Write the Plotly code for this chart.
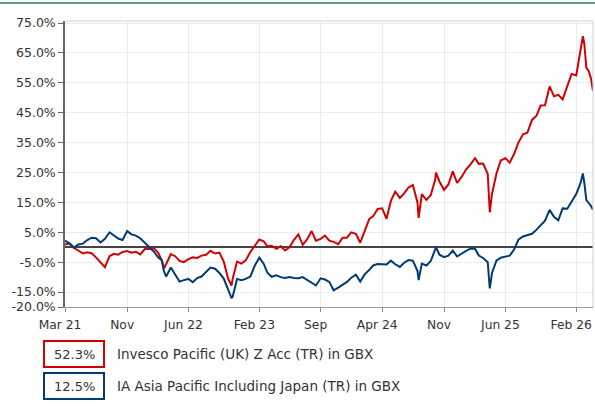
import plotly.graph_objects as go

# ---------------- data ----------------
dates = [
    "2021-03-31", "2021-04-16", "2021-05-01", "2021-05-16", "2021-06-01", "2021-06-16",
    "2021-07-01", "2021-07-16", "2021-08-01", "2021-08-16", "2021-09-01", "2021-09-16",
    "2021-10-01", "2021-10-16", "2021-11-01", "2021-11-16", "2021-12-01", "2021-12-16",
    "2022-01-01", "2022-01-16", "2022-02-01", "2022-02-16", "2022-03-01", "2022-03-08",
    "2022-03-16", "2022-04-01", "2022-04-16", "2022-05-01", "2022-05-16", "2022-06-01",
    "2022-06-16", "2022-07-01", "2022-07-16", "2022-08-01", "2022-08-16", "2022-09-01",
    "2022-09-16", "2022-10-01", "2022-10-16", "2022-10-28", "2022-11-01", "2022-11-16",
    "2022-12-01", "2022-12-16",
    "2023-01-01", "2023-01-16", "2023-02-01", "2023-02-16", "2023-03-01", "2023-03-16",
    "2023-04-01", "2023-04-16", "2023-05-01", "2023-05-16", "2023-06-01", "2023-06-16",
    "2023-07-01", "2023-07-16", "2023-08-01", "2023-08-16", "2023-09-01", "2023-09-16",
    "2023-10-01", "2023-10-16", "2023-11-01", "2023-11-16", "2023-12-01", "2023-12-16",
    "2024-01-01", "2024-01-16", "2024-02-01", "2024-02-16", "2024-03-01", "2024-03-16",
    "2024-04-01", "2024-04-16", "2024-05-01", "2024-05-16", "2024-06-01", "2024-06-16",
    "2024-07-01", "2024-07-16", "2024-08-01", "2024-08-05", "2024-08-16", "2024-09-01",
    "2024-09-16", "2024-10-01", "2024-10-04", "2024-10-16", "2024-11-01", "2024-11-16",
    "2024-12-01", "2024-12-16",
    "2025-01-01", "2025-01-16", "2025-02-01", "2025-02-16", "2025-03-01", "2025-03-16",
    "2025-04-01", "2025-04-08", "2025-04-16", "2025-05-01", "2025-05-16", "2025-06-01",
    "2025-06-16", "2025-07-01", "2025-07-16", "2025-08-01", "2025-08-16", "2025-09-01",
    "2025-09-16", "2025-10-01", "2025-10-16", "2025-11-01", "2025-11-16", "2025-12-01",
    "2025-12-16",
    "2026-01-01", "2026-01-16", "2026-02-01", "2026-02-16", "2026-02-24", "2026-03-01",
    "2026-03-08", "2026-03-16", "2026-03-24", "2026-03-31",
]

fund_name = "Invesco Pacific (UK) Z Acc (TR) in GBX"
fund = [
    0.9, 1.2, -0.2, -1.1, -2.1, -1.7, -2.0, -3.4, -5.1, -6.7, -3.0, -2.2, -2.5, -1.6, -1.3, -1.8, -1.5, -2.4,
    -0.6, -0.6, -0.3, -1.8, -4.5, -7.1, -5.6, -2.3, -3.0, -4.6, -5.0, -4.0, -3.4, -3.6, -2.8, -2.5, -1.2,
    -2.1, -1.8, -4.8, -10.5, -12.8, -10.5, -4.8, -5.5, -4.4,
    -1.6, 0.6, 2.6, 2.0, 0.3, 0.5, -0.5, 0.3, -1.1, 0.0, 2.5, 4.3, 0.8, 2.6, 5.4, 2.2, 2.8, 3.9, 2.2, 1.8,
    1.0, 3.2, 3.2, 5.0,
    4.5, 1.5, 5.8, 9.4, 10.4, 12.8, 13.0, 9.5, 15.5, 18.6, 16.5, 18.0, 20.0, 20.8, 15.0, 9.8, 17.8, 15.8,
    17.5, 22.5, 25.0, 22.0, 19.2, 21.0, 25.4, 21.5,
    23.6, 26.0, 27.8, 29.8, 27.9, 28.0, 24.5, 11.7, 18.0, 24.6, 29.0, 29.8, 28.3, 31.2, 35.0, 37.8, 38.3,
    42.6, 43.9, 47.4, 47.5, 53.8, 50.5, 51.0, 49.5,
    54.0, 58.0, 57.5, 67.0, 70.6, 68.0, 60.0, 59.0, 56.5, 52.3,
]

sector_name = "IA Asia Pacific Including Japan (TR) in GBX"
sector = [
    2.2, 1.2, -0.2, 0.9, 1.2, 2.4, 3.2, 3.0, 1.6, 2.8, 5.0, 3.8, 2.9, 2.4, 5.4, 4.3, 3.9, 3.0,
    1.5, 0.1, -1.4, -3.4, -4.4, -8.0, -9.8, -6.8, -9.4, -11.5, -11.0, -10.6, -11.7, -10.3, -9.8, -8.4,
    -6.8, -7.2, -8.6, -10.5, -14.0, -17.0, -16.5, -10.6, -11.0, -10.6,
    -9.8, -6.2, -3.5, -5.5, -8.5, -9.9, -9.4, -10.0, -10.3, -10.0, -10.3, -10.4, -10.0, -11.0, -12.0,
    -12.8, -10.4, -10.8, -11.6, -14.4, -13.5, -12.5, -11.6, -10.2,
    -9.2, -11.5, -9.0, -7.6, -6.1, -5.6, -5.6, -5.8, -4.5, -5.7, -6.6, -5.2, -4.3, -4.5, -8.0, -11.0,
    -5.5, -6.1, -4.6, -1.0, 0.0, -2.5, -3.3, -2.8, -1.1, -3.1,
    -2.0, -1.2, -0.4, -0.5, -2.8, -3.6, -5.0, -13.8, -8.5, -4.5, -3.5, -3.1, -2.8, -0.8, 2.5, 3.6, 4.0,
    4.5, 5.8, 7.5, 8.9, 12.5, 10.2, 9.0, 13.0,
    12.9, 15.5, 17.8, 21.5, 24.7, 21.5, 15.8, 14.8, 13.8, 12.5,
]

legend_values = ["52.3%", "12.5%"]

x_tick_dates = ["2021-03-31", "2021-11-01", "2022-06-01", "2023-02-01", "2023-09-01",
                "2024-04-01", "2024-11-01", "2025-06-01", "2026-02-01"]
x_tick_labels = ["Mar 21", "Nov", "Jun 22", "Feb 23", "Sep", "Apr 24", "Nov", "Jun 25", "Feb 26"]

y_tick_vals = [75, 65, 55, 45, 35, 25, 15, 5, -5, -15, -20]
y_tick_labels = ["75.0%", "65.0%", "55.0%", "45.0%", "35.0%", "25.0%", "15.0%", "5.0%",
                 "-5.0%", "-15.0%", "-20.0%"]

assert len(dates) == len(fund) == len(sector)

# ---------------- style ----------------
RED = "#d20000"
BLUE = "#003b74"
FONT = "DejaVu Sans"
TXT = "#333333"

W, H = 595, 406
ML, MR, MT, MB = 65, 2, 21, 99
PW = W - ML - MR
PH = H - MT - MB


def px(x):
    return (x - ML) / PW


def py(y):
    return (H - MB - y) / PH


fig = go.Figure()
fig.add_trace(go.Scatter(x=dates, y=fund, mode="lines", name=fund_name,
                         line=dict(color=RED, width=2)))
fig.add_trace(go.Scatter(x=dates, y=sector, mode="lines", name=sector_name,
                         line=dict(color=BLUE, width=2)))

shapes = [
    dict(type="line", xref="paper", yref="paper", x0=px(0), x1=px(W), y0=py(3), y1=py(3),
         line=dict(color="#5c9d95", width=2)),
    dict(type="line", xref="paper", yref="paper", x0=0, x1=1, y0=1, y1=1,
         line=dict(color="#d0d0d0", width=1)),
    dict(type="line", xref="paper", yref="paper", x0=1, x1=1, y0=0, y1=1,
         line=dict(color="#d0d0d0", width=1)),
]

annotations = []
legend_rows = [(RED, legend_values[0], fund_name, 341), (BLUE, legend_values[1], sector_name, 373)]
for col, val, name, top in legend_rows:
    shapes.append(dict(type="rect", xref="paper", yref="paper",
                       x0=px(44), x1=px(104), y0=py(top + 26), y1=py(top),
                       line=dict(color=col, width=2), fillcolor="white"))
    annotations.append(dict(xref="paper", yref="paper", x=px(74), y=py(top + 13),
                            text=val, showarrow=False, xanchor="center", yanchor="middle",
                            font=dict(family=FONT, size=13, color=TXT)))
    annotations.append(dict(xref="paper", yref="paper", x=px(115), y=py(top + 13),
                            text=name, showarrow=False, xanchor="left", yanchor="middle",
                            font=dict(family=FONT, size=13.5, color=TXT)))

fig.update_layout(
    width=W, height=H,
    margin=dict(l=ML, r=MR, t=MT, b=MB, autoexpand=False),
    paper_bgcolor="white", plot_bgcolor="white",
    showlegend=False,
    shapes=shapes,
    annotations=annotations,
    xaxis=dict(type="date", range=["2021-03-31", "2026-03-31"], automargin=False,
               tickmode="array", tickvals=x_tick_dates, ticktext=x_tick_labels,
               ticklabeloverflow="allow", ticklabelstandoff=2, ticklabelshift=-5,
               ticks="outside", ticklen=4, tickcolor="#888", showgrid=True,
               gridcolor="#ececec", gridwidth=1, showline=True, linecolor="#999", linewidth=1,
               tickfont=dict(family=FONT, size=12.3, color=TXT), zeroline=False),
    yaxis=dict(range=[-20, 75.7], automargin=False, tickmode="array", tickvals=y_tick_vals,
               ticktext=y_tick_labels, ticklabeloverflow="allow",
               ticks="outside", ticklen=5, tickcolor="#666", showgrid=True,
               gridcolor="#ececec", gridwidth=1, showline=True, linecolor="#666", linewidth=1.5,
               zeroline=True, zerolinecolor="#444", zerolinewidth=1.6,
               tickfont=dict(family=FONT, size=12.5, color=TXT)),
)

fig.write_html(
    "out.html",
    config={"displayModeBar": False},
    post_script="document.body.style.margin='0';document.body.style.overflow='hidden';",
)
